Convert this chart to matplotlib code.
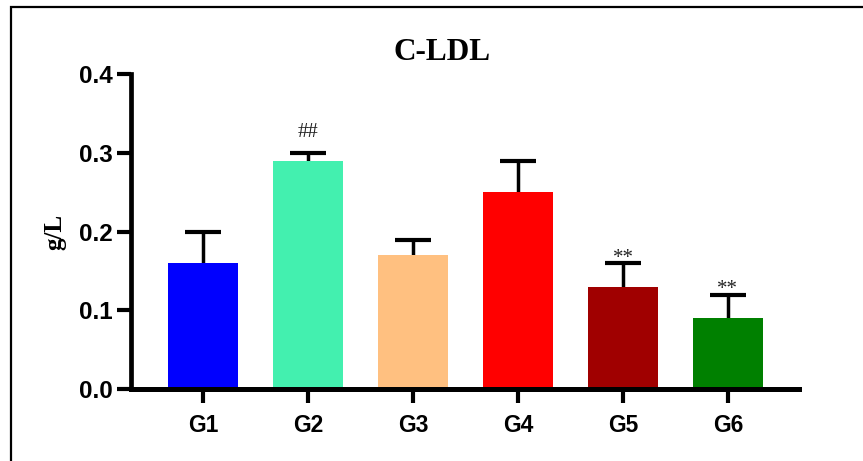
import numpy as np
import matplotlib
matplotlib.use("Agg")
import matplotlib.pyplot as plt
from matplotlib.patches import Rectangle

# Données C-LDL par groupe (moyenne + écart-type, g/L)
groupes = ["G1", "G2", "G3", "G4", "G5", "G6"]
moyennes = [0.16, 0.29, 0.17, 0.25, 0.13, 0.09]
ecarts = [0.04, 0.01, 0.02, 0.04, 0.03, 0.03]
signes = ["", "##", "", "", "**", "**"]
couleurs = ["#0000FF", "#43F0AF", "#FFC080", "#FF0000", "#A00000", "#008000"]

fig = plt.figure(figsize=(8.63, 4.61), dpi=100)
ax = fig.add_axes([0.1518, 0.156, 0.7744, 0.6825])

# cadre extérieur
fig.patches.append(Rectangle((11 / 863, -0.05), 1.2, 1 - 7 / 461 + 0.05,
                             transform=fig.transFigure, fill=False,
                             edgecolor="black", linewidth=1.6))

x = np.arange(len(groupes))
ax.bar(x, moyennes, width=0.667, color=couleurs, zorder=2)
_, caps, _ = ax.errorbar(x, moyennes, yerr=[np.zeros(len(ecarts)), ecarts], fmt="none",
                         ecolor="black", elinewidth=2.5, capsize=13, capthick=3, zorder=1)
# seulement la barre supérieure
caps[0].remove()

# marqueurs de significativité au-dessus des barres d'erreur
decalages = {"##": 11.5, "**": 0.5}
for xi, m, e, s in zip(x, moyennes, ecarts, signes):
    if s:
        ax.annotate(s, (xi, m + e), xytext=(0, decalages[s]), textcoords="offset points",
                    ha="center", va="baseline", fontsize=15,
                    family="Liberation Serif", color="#222222")

ax.set_xlim(-0.69, 5.68)
ax.set_ylim(0, 0.4)
ax.set_yticks([0.0, 0.1, 0.2, 0.3, 0.4])
ax.set_yticklabels(["0.0", "0.1", "0.2", "0.3", "0.4"])
ax.set_xticks(x)
ax.set_xticklabels(groupes)

for lab in ax.get_yticklabels():
    lab.set_fontsize(17.5)
    lab.set_fontweight("bold")
    lab.set_family("Liberation Sans")
for lab in ax.get_xticklabels():
    lab.set_fontsize(16.5)
    lab.set_fontweight("bold")
    lab.set_family("Liberation Sans")

ax.spines["top"].set_visible(False)
ax.spines["right"].set_visible(False)
ax.spines["left"].set_linewidth(3.4)
ax.spines["bottom"].set_linewidth(3.6)
ax.tick_params(axis="y", length=10, width=3, pad=3)
ax.tick_params(axis="x", length=10, width=3, pad=8)

ax.set_ylabel("g/L", fontsize=18, fontweight="bold", family="Liberation Serif", labelpad=9)
fig.text(0.5127, 0.887, "C-LDL", ha="center", va="center", fontsize=22.5,
         fontweight="bold", family="Liberation Serif")

fig.savefig("out.png", dpi=100)
